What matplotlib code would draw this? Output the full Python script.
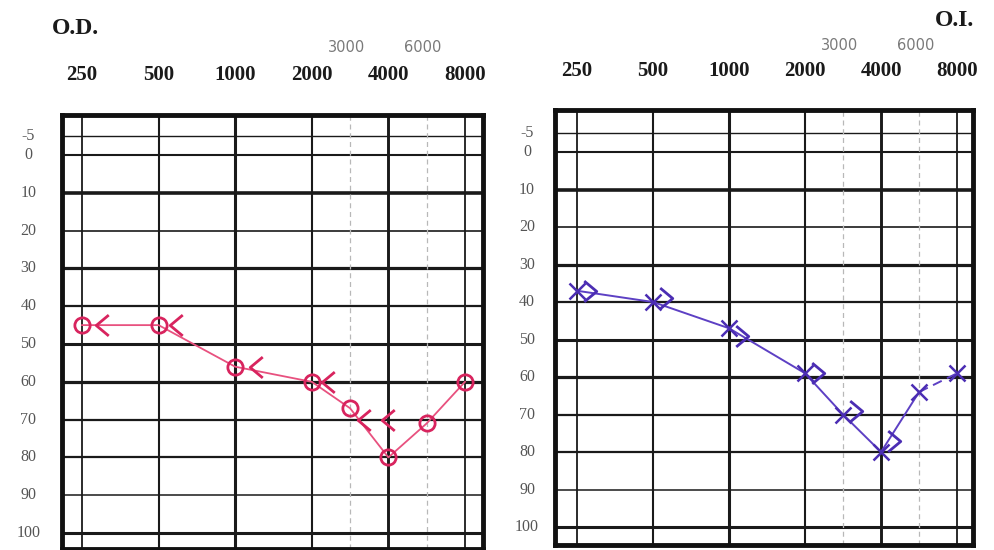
import numpy as np
import matplotlib.pyplot as plt
from matplotlib.path import Path
import matplotlib.transforms as mtransforms

# Частоти (Гц) та пороги слуху (дБ)
freqs = [250, 500, 1000, 2000, 3000, 4000, 6000, 8000]
bone_freqs = [250, 500, 1000, 2000, 3000, 4000]

od_air = [45, 45, 56, 60, 67, 80, 71, 60]     # праве вухо, повітряна провідність
od_bone = [45, 45, 56, 60, 70, 70]            # праве вухо, кісткова провідність
oi_air = [37, 40, 47, 59, 70, 80, 64, 59]     # ліве вухо, повітряна провідність
oi_bone = [37, 39, 49, 59, 69, 77]            # ліве вухо, кісткова провідність

main_freqs = [250, 500, 1000, 2000, 4000, 8000]
main_labels = ['250', '500', '1000', '2000', '4000', '8000']
mid_freqs = [3000, 6000]
mid_labels = ['3000', '6000']
db_levels = [-5, 0, 10, 20, 30, 40, 50, 60, 70, 80, 90, 100]
db_labels = ['-5', '0', '10', '20', '30', '40', '50', '60', '70', '80', '90', '100']

# шкала аудіограми: октави рівномірно, 3000 і 6000 посередині між сусідами
scale_f = np.log2([125, 250, 500, 1000, 2000, 3000, 4000, 6000, 8000, 16000])
scale_p = np.array([-1, 0, 1, 2, 3, 3.5, 4, 4.5, 5, 6])


def to_pos(f):
    return np.interp(np.log2(np.clip(f, 1e-9, None)), scale_f, scale_p)


def from_pos(p):
    return 2 ** np.interp(p, scale_p, scale_f)


# товщина ліній сітки
h_widths = [1.0, 1.5, 2.6, 1.2, 2.3, 1.6, 2.2, 2.3, 1.6, 1.6, 1.1, 2.2]
v_widths = [1.3, 1.5, 2.2, 1.5, 2.1, 1.3]

# маркери кісткової провідності "<" та ">"
LT = Path([(0.6, 1.0), (-0.6, 0.0), (0.6, -1.0)],
          [Path.MOVETO, Path.LINETO, Path.LINETO])
GT = Path([(-0.6, 1.0), (0.6, 0.0), (-0.6, -1.0)],
          [Path.MOVETO, Path.LINETO, Path.LINETO])

RED = '#d8245e'
RED_LINE = '#e8517f'
PURPLE = '#4b2db3'
PURPLE_LINE = '#5d40c4'


def draw_grid(ax, xlim, ylim):
    ax.set_xscale('function', functions=(to_pos, from_pos))
    ax.set_xlim(*xlim)
    ax.set_ylim(*ylim)
    ax.set_xticks([])
    ax.set_yticks([])
    ax.minorticks_off()
    for lvl, lw in zip(db_levels, h_widths):
        ax.axhline(lvl, color='#1a1a1a', lw=lw, zorder=1)
    for f, lw in zip(main_freqs, v_widths):
        ax.axvline(f, color='#1a1a1a', lw=lw, zorder=1)
    for f in mid_freqs:
        ax.axvline(f, color='#b8b8b8', lw=0.9, ls=(0, (4, 3)), zorder=1)
    for s in ax.spines.values():
        s.set_linewidth(3.5)
        s.set_color('#111111')


def draw_labels(fig, ax, label_x, top_y, mid_y):
    tr = mtransforms.blended_transform_factory(ax.transData, fig.transFigure)
    for f, t in zip(main_freqs, main_labels):
        ax.text(f, top_y, t, transform=tr, ha='center', va='center',
                fontsize=15, fontweight='bold', family='Liberation Serif',
                color='#1a1a1a')
    for f, t in zip(mid_freqs, mid_labels):
        ax.text(f * 0.96, mid_y, t, transform=tr, ha='center', va='center',
                fontsize=10.5, family='DejaVu Sans', color='#7a7a7a')
    ytr = mtransforms.blended_transform_factory(ax.transAxes, ax.transData)
    for lvl, t in zip(db_levels, db_labels):
        ax.text(label_x, lvl, t, transform=ytr, ha='center', va='center',
                fontsize=11.5, family='Liberation Serif', color='#555555')


def shifted(ax, dx_px):
    return ax.transData + mtransforms.ScaledTranslation(dx_px / 100, 0,
                                                        ax.figure.dpi_scale_trans)


fig = plt.figure(figsize=(9.94, 5.5), dpi=100)
ax_od = fig.add_axes([0.0624, 0.002, 0.4235, 0.789])
ax_oi = fig.add_axes([0.5584, 0.009, 0.4205, 0.791])

# O.D. — праве вухо
draw_grid(ax_od, (from_pos(-0.261), from_pos(5.235)), (104.2, -10.6))
ax_od.plot(freqs, od_air, color=RED_LINE, lw=1.3, zorder=3)
ax_od.plot(freqs, od_air, ls='none', marker='o', ms=11, mfc='none',
           mec=RED, mew=2.0, zorder=4)
od_shift_px = [20, 17, 21, 16, 14, 0]
for f, v, dx in zip(bone_freqs, od_bone, od_shift_px):
    ax_od.plot([f], [v], ls='none', marker=LT, ms=15, mfc='none', mec=RED,
               mew=2.0, zorder=4, transform=shifted(ax_od, dx))
draw_labels(fig, ax_od, -0.08, 1 - 75 / 550, 1 - 48 / 550)
fig.text(75 / 994, 1 - 28 / 550, 'O.D.', ha='center', va='center',
         fontsize=17, fontweight='bold', family='Liberation Serif',
         color='#1a1a1a')

# O.I. — ліве вухо
draw_grid(ax_oi, (from_pos(-0.289), from_pos(5.21)), (104.8, -11.2))
ax_oi.plot(freqs[:-1], oi_air[:-1], color=PURPLE_LINE, lw=1.4, zorder=3)
ax_oi.plot(freqs[-2:], oi_air[-2:], color=PURPLE_LINE, lw=1.4,
           ls=(0, (5, 3)), zorder=3)
ax_oi.plot(freqs, oi_air, ls='none', marker='x', ms=12, mec=PURPLE,
           mew=1.8, zorder=4)
ax_oi.plot(bone_freqs, oi_bone, ls='none', marker=GT, ms=15, mfc='none',
           mec=PURPLE, mew=2.0, zorder=4, transform=shifted(ax_oi, 13))
draw_labels(fig, ax_oi, -0.067, 1 - 71 / 550, 1 - 45 / 550)
fig.text(955 / 994, 1 - 21 / 550, 'O.I.', ha='center', va='center',
         fontsize=17, fontweight='bold', family='Liberation Serif',
         color='#1a1a1a')

fig.savefig('out.png', dpi=100, facecolor='white')
